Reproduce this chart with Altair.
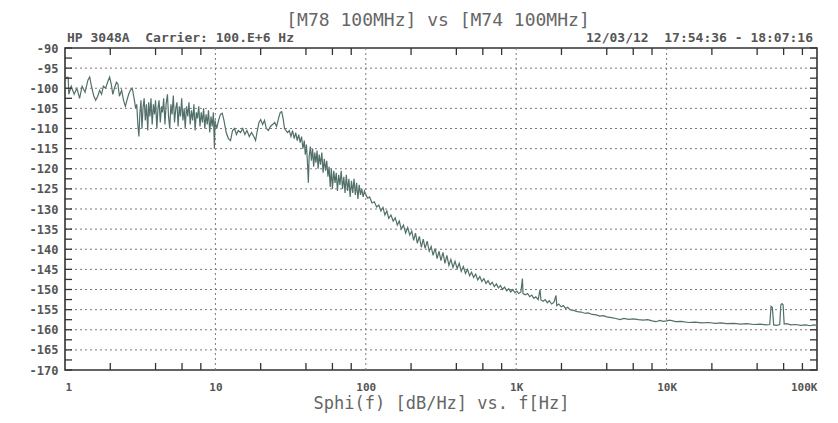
import altair as alt
import pandas as pd

# ---- trace values: (frequency in Hz, dB/Hz) ----
seg_1_3hz = [(1.0, -100.5), (1.01, -97.3), (1.05, -97.3), (1.06, -101.5), (1.1, -99.5), (1.15, -101.5),
             (1.2, -100), (1.25, -102.5), (1.3, -99.5), (1.36, -101), (1.42, -98), (1.46, -97.2),
             (1.5, -99.5), (1.55, -101.8), (1.6, -103), (1.65, -102), (1.7, -100.5), (1.75, -101.5),
             (1.8, -99.5), (1.86, -100), (1.92, -98.5), (1.98, -97.2), (2.03, -99), (2.08, -101.5),
             (2.13, -100), (2.2, -98.5), (2.25, -99), (2.3, -102), (2.38, -100.5), (2.45, -103),
             (2.52, -104.5), (2.58, -103), (2.65, -101.5), (2.72, -100.5), (2.8, -100), (2.88, -102.5),
             (2.95, -105)]

seg_3_10hz = [(3.0, -104), (3.05, -109), (3.1, -112), (3.15, -106), (3.2, -103), (3.25, -110), (3.3, -105),
              (3.36, -102.5), (3.42, -108), (3.48, -104), (3.55, -110.5), (3.6, -103.5), (3.67, -107),
              (3.73, -102.5), (3.8, -109), (3.87, -104), (3.94, -106.5), (4.0, -103), (4.08, -110),
              (4.15, -105), (4.22, -103), (4.3, -108.5), (4.38, -104.5), (4.45, -106), (4.53, -102.5),
              (4.62, -109), (4.7, -104), (4.8, -101.5), (4.88, -107), (4.97, -110), (5.06, -104),
              (5.15, -106.5), (5.25, -101.8), (5.35, -108.5), (5.45, -105), (5.55, -103.5), (5.65, -109.5),
              (5.75, -104.5), (5.86, -107), (5.97, -102.5), (6.08, -108), (6.2, -105), (6.3, -110),
              (6.42, -104.5), (6.55, -107), (6.67, -103.5), (6.8, -109), (6.93, -105.5), (7.06, -108),
              (7.2, -104), (7.33, -110.5), (7.47, -106), (7.6, -107.5), (7.75, -104.5), (7.9, -109.5),
              (8.05, -106), (8.2, -108.5), (8.35, -105), (8.5, -110), (8.67, -106.5), (8.83, -109),
              (9.0, -105.5), (9.17, -111), (9.35, -107), (9.52, -109.5), (9.7, -106), (9.85, -115),
              (9.95, -108), (10.05, -109)]

seg_10_30hz = [(10.2, -110), (10.5, -108), (10.8, -106.5), (11.1, -106.2), (11.4, -108), (11.8, -111),
               (12.2, -112.5), (12.6, -113), (13.0, -110.5), (13.4, -110), (13.8, -111.5), (14.2, -110.5),
               (14.7, -111), (15.2, -110), (15.7, -111.5), (16.2, -110.5), (16.8, -112), (17.4, -111),
               (18.0, -112), (18.5, -113), (19.0, -110.5), (19.5, -108.5), (20.0, -107.8), (20.6, -109),
               (21.2, -108), (21.8, -110), (22.5, -110.5), (23.2, -109.5), (24.0, -109), (24.8, -108.5),
               (25.5, -109.5), (26.3, -107.5), (27.0, -106), (27.6, -105.8), (28.2, -107.5), (28.8, -110),
               (29.5, -110.5)]

seg_30_100hz = [(30.2, -111), (31, -110.5), (31.8, -112), (32.6, -110.5), (33.4, -112.5), (34.2, -111),
                (35, -113), (35.8, -111.5), (36.6, -113.5), (37.4, -112), (38.2, -115), (39, -113),
                (39.6, -116.5), (40.3, -114), (41, -119), (41.5, -123.5), (42, -117), (42.8, -114.5),
                (43.5, -118), (44.3, -115), (45, -119.5), (45.8, -116), (46.6, -118.5), (47.4, -115.5),
                (48.2, -120), (49, -116.5), (50, -119), (51, -116), (52, -121), (53, -117.5), (54, -120.5),
                (55, -118), (56, -122), (57, -119.5), (58, -124.5), (59, -120), (60, -125), (61.2, -120.5),
                (62.4, -123.5), (63.6, -121), (64.8, -125.5), (66, -121.5), (67.3, -124), (68.6, -120.5),
                (70, -125), (71.4, -122), (72.8, -126), (74.2, -121.5), (75.7, -125.5), (77.2, -122.5),
                (78.7, -127), (80.3, -123), (81.9, -126), (83.5, -122.5), (85.2, -126.5), (86.9, -123.5),
                (88.6, -127.5), (90.4, -124), (92.2, -126.5), (94, -125), (96, -127), (98, -125.5),
                (100, -126.5), (103, -127.3)]

seg_100_1khz = [(106, -127.0), (110, -128.5), (114, -128.2), (118, -129.5), (122, -129.0), (126, -130.5),
                (130, -129.6), (134, -131.5), (138, -130.5), (142, -132.3), (147, -131.5), (152, -133.0),
                (157, -132.2), (162, -134.0), (167, -133.0), (172, -135.0), (178, -134.0), (184, -136.0),
                (190, -134.6), (196, -136.5), (202, -135.5), (208, -137.8), (214, -136.0), (220, -138.5),
                (227, -136.8), (234, -139.5), (241, -137.5), (248, -139.8), (256, -138.0), (264, -140.5),
                (272, -139.3), (280, -141.5), (289, -139.8), (298, -142.3), (307, -140.5), (316, -142.8),
                (326, -140.8), (336, -143.5), (346, -141.5), (357, -144.0), (368, -142.5), (380, -144.5),
                (392, -143.0), (405, -144.8), (418, -143.5), (431, -145.5), (445, -144.3), (460, -146.0),
                (475, -145.0), (490, -146.6), (505, -145.7), (521, -147.0), (538, -146.2), (555, -147.6),
                (573, -146.8), (591, -148.0), (610, -147.3), (630, -148.5), (650, -147.8), (671, -148.8),
                (693, -148.2), (715, -149.3), (738, -148.6), (762, -149.6), (786, -149.0), (811, -150.0),
                (837, -149.4), (864, -150.3), (892, -149.8), (920, -150.6), (950, -150.0), (980, -150.8),
                (1010, -150.4)]

seg_1k_10khz = [(1040, -151.0), (1075, -150.6), (1100, -147.3), (1110, -151.0), (1150, -151.3),
                (1190, -151.0), (1230, -151.8), (1270, -151.4), (1310, -152.2), (1350, -151.8),
                (1400, -152.5), (1440, -150.0), (1460, -152.6), (1510, -152.9), (1560, -152.5),
                (1610, -153.3), (1660, -152.8), (1720, -153.6), (1780, -153.2), (1840, -151.5),
                (1860, -154.0), (1920, -153.6), (1990, -154.3), (2060, -154.0), (2130, -154.7),
                (2200, -154.4), (2280, -155.0), (2400, -155.2), (2550, -155.5), (2700, -155.6),
                (2850, -155.9), (3000, -155.8), (3200, -156.2), (3400, -156.3), (3600, -156.6),
                (3800, -156.5), (4000, -156.8), (4300, -157.0), (4600, -157.2), (4900, -157.5),
                (5200, -157.2), (5600, -157.4), (6000, -157.3), (6500, -157.5), (7000, -157.6),
                (7500, -157.5), (8000, -157.8), (8500, -158.0), (9000, -157.7), (9500, -157.9),
                (10000, -157.8)]

seg_10k_100khz = [(10500, -157.6), (11500, -158.0), (12500, -157.9), (14000, -158.2), (15500, -158.1),
                  (17000, -158.3), (19000, -158.2), (21000, -158.4), (23000, -158.3), (25000, -158.5),
                  (28000, -158.4), (31000, -158.6), (34000, -158.5), (38000, -158.7), (42000, -158.6),
                  (46000, -158.8), (48500, -158.7), (49500, -154.2), (50500, -154.5), (51500, -158.8),
                  (54000, -158.9), (56500, -158.7), (57500, -153.8), (58500, -153.5), (59500, -153.8),
                  (60500, -158.6), (63000, -158.5), (67000, -158.8), (72000, -158.7), (78000, -158.9),
                  (84000, -158.8), (90000, -159.0), (95000, -158.8), (100000, -158.9)]

# ---- axes / texts ----
x_major = [1, 10, 100, 1000, 10000, 100000]
x_grid = [10, 100, 1000, 10000]
x_minor = [m * d for d in [1, 10, 100, 1000, 10000] for m in [2, 4, 6, 8]]
y_major = list(range(-170, -89, 5))
y_grid = list(range(-165, -90, 5))
y_minor = [v / 2 for v in range(-340, -179, 5)]

NB = "\u00a0"
title_text = "[M78 100MHz] vs [M74 100MHz]"
header_left = "HP 3048A" + NB * 2 + "Carrier: 100.E+6 Hz"
header_right = "12/03/12" + NB * 2 + "17:54:36 - 18:07:16"
x_title = "Sphi(f) [dB/Hz] vs. f[Hz]"

W, H = 752, 322
MONO = "DejaVu Sans Mono"
TXT = "#555555"

points = seg_1_3hz + seg_3_10hz + seg_10_30hz + seg_30_100hz + seg_100_1khz + seg_1k_10khz + seg_10k_100khz
df = pd.DataFrame(points, columns=["f", "db"])
df["order"] = range(len(df))

xscale = alt.Scale(type="log", domain=[1, 100000], nice=False)
yscale = alt.Scale(domain=[-170, -90], nice=False, zero=False)

x_axis = alt.Axis(values=x_major, grid=False, ticks=False, domain=False, labelOverlap=False,
                  labelExpr="datum.value >= 1000 ? format(datum.value/1000, 'd') + 'K' : format(datum.value, 'd')",
                  labelFont=MONO, labelFontSize=11, labelFontWeight="bold", labelColor=TXT, labelPadding=11,
                  title=x_title, titleFont=MONO, titleFontSize=17, titleFontWeight="normal",
                  titleColor="#666666", titlePadding=3)
y_axis = alt.Axis(values=y_major, grid=False, ticks=False, domain=False, labelOverlap=False,
                  labelExpr="'-' + (-datum.value)",
                  labelFont=MONO, labelFontSize=12, labelFontWeight="bold", labelColor=TXT, labelPadding=7,
                  title=None)

line = alt.Chart(df).mark_line(color="#52706a", strokeWidth=1.2, clip=True).encode(
    x=alt.X("f:Q", scale=xscale, axis=x_axis),
    y=alt.Y("db:Q", scale=yscale, axis=y_axis),
    order="order:Q",
)

grid_style = dict(color="#7a7a7a", strokeWidth=1, strokeDash=[2, 3])
hgrid = alt.Chart(pd.DataFrame({"db": y_grid})).mark_rule(**grid_style).encode(
    y=alt.Y("db:Q", scale=yscale, axis=y_axis), x=alt.value(0), x2=alt.value(W))
vgrid = alt.Chart(pd.DataFrame({"f": x_grid})).mark_rule(**grid_style).encode(
    x=alt.X("f:Q", scale=xscale, axis=x_axis), y=alt.value(0), y2=alt.value(H))

tick_style = dict(color="#333333", strokeWidth=1.3)
tick_len = 7
xt = pd.DataFrame({"f": x_minor})
top_ticks = alt.Chart(xt).mark_rule(**tick_style).encode(
    x=alt.X("f:Q", scale=xscale, axis=x_axis), y=alt.value(0), y2=alt.value(tick_len))
bot_ticks = alt.Chart(xt).mark_rule(**tick_style).encode(
    x=alt.X("f:Q", scale=xscale, axis=x_axis), y=alt.value(H - tick_len), y2=alt.value(H))
yt = pd.DataFrame({"db": y_minor})
left_ticks = alt.Chart(yt).mark_rule(**tick_style).encode(
    y=alt.Y("db:Q", scale=yscale, axis=y_axis), x=alt.value(0), x2=alt.value(tick_len))
right_ticks = alt.Chart(yt).mark_rule(**tick_style).encode(
    y=alt.Y("db:Q", scale=yscale, axis=y_axis), x=alt.value(W - tick_len), x2=alt.value(W))

title_mark = alt.Chart(pd.DataFrame({"t": [title_text]})).mark_text(
    font=MONO, fontSize=18, color="#666666", align="center", baseline="middle").encode(
    x=alt.value(W / 2 - 3), y=alt.value(-27), text="t:N")
head_l = alt.Chart(pd.DataFrame({"t": [header_left]})).mark_text(
    font=MONO, fontSize=13, fontWeight="bold", color=TXT, align="left", baseline="middle").encode(
    x=alt.value(2), y=alt.value(-10), text="t:N")
head_r = alt.Chart(pd.DataFrame({"t": [header_right]})).mark_text(
    font=MONO, fontSize=13, fontWeight="bold", color=TXT, align="right", baseline="middle").encode(
    x=alt.value(W - 4), y=alt.value(-10), text="t:N")

chart = alt.layer(
    line, hgrid, vgrid, top_ticks, bot_ticks, left_ticks, right_ticks, title_mark, head_l, head_r
).properties(
    width=W, height=H,
    autosize=alt.AutoSizeParams(type="none"),
    padding={"left": 57, "top": 40, "right": 13, "bottom": 45},
    background="white",
).configure_view(stroke="#333333", strokeWidth=1.6)

chart.save("out.html", embed_options={"renderer": "svg", "actions": False})
